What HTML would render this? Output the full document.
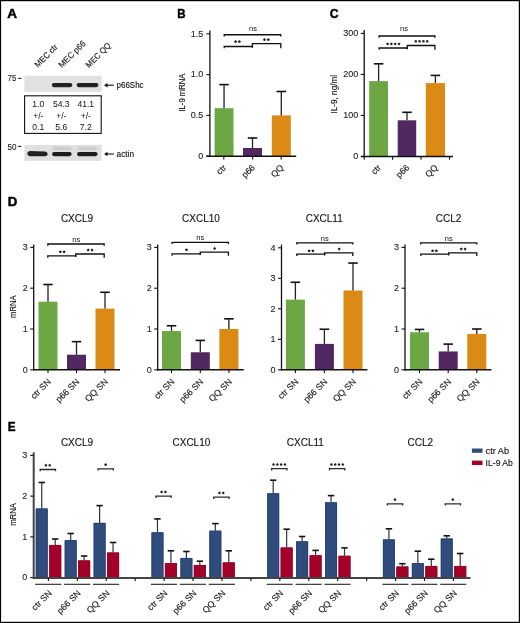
<!DOCTYPE html>
<html><head><meta charset="utf-8"><style>
html,body{margin:0;padding:0;background:#fff;}
svg{display:block;will-change:transform;}
text{font-family:"Liberation Sans",sans-serif;}
</style></head><body>
<svg width="520" height="623" viewBox="0 0 520 623">
<rect width="520" height="623" fill="#fff"/>
<rect x="0.00" y="0.00" width="1.10" height="623.00" fill="#000"/>
<rect x="0.00" y="0.00" width="520.00" height="1.20" fill="#000"/>
<rect x="518.80" y="0.00" width="1.20" height="623.00" fill="#000"/>
<rect x="0.00" y="621.80" width="520.00" height="1.20" fill="#000"/>
<text x="7.30" y="17.80" font-size="12.2" text-anchor="start" font-weight="bold" fill="#000" stroke="#000" stroke-width="0.45" textLength="9.8" lengthAdjust="spacingAndGlyphs">A</text>
<text x="177.30" y="17.80" font-size="12.2" text-anchor="start" font-weight="bold" fill="#000" stroke="#000" stroke-width="0.45" textLength="8.3" lengthAdjust="spacingAndGlyphs">B</text>
<text x="329.70" y="17.90" font-size="12.2" text-anchor="start" font-weight="bold" fill="#000" stroke="#000" stroke-width="0.45" textLength="8.8" lengthAdjust="spacingAndGlyphs">C</text>
<text x="7.70" y="205.90" font-size="12.2" text-anchor="start" font-weight="bold" fill="#000" stroke="#000" stroke-width="0.45" textLength="9.6" lengthAdjust="spacingAndGlyphs">D</text>
<text x="7.70" y="430.70" font-size="12.2" text-anchor="start" font-weight="bold" fill="#000" stroke="#000" stroke-width="0.45" textLength="7.8" lengthAdjust="spacingAndGlyphs">E</text>
<rect x="214.60" y="108.20" width="18.90" height="48.00" fill="#6ca743"/>
<line x1="224.05" y1="108.20" x2="224.05" y2="84.60" stroke="#222" stroke-width="1.3"/>
<line x1="219.30" y1="84.60" x2="228.80" y2="84.60" stroke="#111" stroke-width="1.6"/>
<rect x="243.00" y="148.00" width="19.00" height="8.20" fill="#522862"/>
<line x1="252.50" y1="148.00" x2="252.50" y2="138.00" stroke="#222" stroke-width="1.3"/>
<line x1="247.75" y1="138.00" x2="257.25" y2="138.00" stroke="#111" stroke-width="1.6"/>
<rect x="271.80" y="115.40" width="19.00" height="40.80" fill="#db8a16"/>
<line x1="281.30" y1="115.40" x2="281.30" y2="91.50" stroke="#222" stroke-width="1.3"/>
<line x1="276.55" y1="91.50" x2="286.05" y2="91.50" stroke="#111" stroke-width="1.6"/>
<line x1="209.90" y1="30.50" x2="209.90" y2="156.80" stroke="#111" stroke-width="1.3"/>
<line x1="206.40" y1="156.20" x2="209.90" y2="156.20" stroke="#111" stroke-width="1.1"/>
<text x="203.30" y="158.90" font-size="9" text-anchor="end" font-weight="normal" fill="#222" stroke="#222" stroke-width="0.1">0</text>
<line x1="206.40" y1="115.40" x2="209.90" y2="115.40" stroke="#111" stroke-width="1.1"/>
<text x="203.30" y="118.10" font-size="9" text-anchor="end" font-weight="normal" fill="#222" stroke="#222" stroke-width="0.1">0.5</text>
<line x1="206.40" y1="74.60" x2="209.90" y2="74.60" stroke="#111" stroke-width="1.1"/>
<text x="203.30" y="77.30" font-size="9" text-anchor="end" font-weight="normal" fill="#222" stroke="#222" stroke-width="0.1">1.0</text>
<line x1="206.40" y1="33.80" x2="209.90" y2="33.80" stroke="#111" stroke-width="1.1"/>
<text x="203.30" y="36.50" font-size="9" text-anchor="end" font-weight="normal" fill="#222" stroke="#222" stroke-width="0.1">1.5</text>
<line x1="206.30" y1="156.20" x2="296.20" y2="156.20" stroke="#111" stroke-width="1.5"/>
<line x1="223.80" y1="156.20" x2="223.80" y2="159.40" stroke="#111" stroke-width="1.1"/>
<line x1="252.60" y1="156.20" x2="252.60" y2="159.40" stroke="#111" stroke-width="1.1"/>
<line x1="281.20" y1="156.20" x2="281.20" y2="159.40" stroke="#111" stroke-width="1.1"/>
<path d="M224.20 36.45 V34.75 H280.80 V36.45" fill="none" stroke="#111" stroke-width="1.3"/>
<path d="M224.20 48.30 V46.50 H252.40 V47.70" fill="none" stroke="#111" stroke-width="1.3"/>
<path d="M252.40 47.30 V43.60 H280.80 V48.30" fill="none" stroke="#111" stroke-width="1.3"/>
<text x="253.00" y="31.40" font-size="7.5" text-anchor="middle" font-weight="normal" fill="#111">ns</text>
<polygon points="235.60,39.95 236.19,40.84 237.22,41.12 236.55,41.96 236.60,43.03 235.60,42.65 234.60,43.03 234.65,41.96 233.98,41.12 235.01,40.84" fill="#1a1a1a"/>
<polygon points="239.40,39.95 239.99,40.84 241.02,41.12 240.35,41.96 240.40,43.03 239.40,42.65 238.40,43.03 238.45,41.96 237.78,41.12 238.81,40.84" fill="#1a1a1a"/>
<polygon points="264.50,37.95 265.09,38.84 266.12,39.12 265.45,39.96 265.50,41.03 264.50,40.65 263.50,41.03 263.55,39.96 262.88,39.12 263.91,38.84" fill="#1a1a1a"/>
<polygon points="268.30,37.95 268.89,38.84 269.92,39.12 269.25,39.96 269.30,41.03 268.30,40.65 267.30,41.03 267.35,39.96 266.68,39.12 267.71,38.84" fill="#1a1a1a"/>
<text x="185.00" y="92.60" font-size="9.2" text-anchor="middle" font-weight="normal" fill="#111" stroke="#111" stroke-width="0.15" textLength="37.8" lengthAdjust="spacingAndGlyphs" transform="rotate(-90 185.00 92.60)">IL-9 mRNA</text>
<text x="226.80" y="168.20" font-size="8.8" text-anchor="end" font-weight="normal" fill="#111" stroke="#111" stroke-width="0.12" transform="rotate(-45 226.80 168.20)">ctr</text>
<text x="255.60" y="168.20" font-size="8.8" text-anchor="end" font-weight="normal" fill="#111" stroke="#111" stroke-width="0.12" transform="rotate(-45 255.60 168.20)">p66</text>
<text x="284.20" y="168.20" font-size="8.8" text-anchor="end" font-weight="normal" fill="#111" stroke="#111" stroke-width="0.12" transform="rotate(-45 284.20 168.20)">QQ</text>
<rect x="369.20" y="81.10" width="18.80" height="75.40" fill="#6ca743"/>
<line x1="378.60" y1="81.10" x2="378.60" y2="63.80" stroke="#222" stroke-width="1.3"/>
<line x1="373.85" y1="63.80" x2="383.35" y2="63.80" stroke="#111" stroke-width="1.6"/>
<rect x="397.70" y="120.30" width="18.50" height="36.20" fill="#522862"/>
<line x1="407.00" y1="120.30" x2="407.00" y2="112.30" stroke="#222" stroke-width="1.3"/>
<line x1="402.25" y1="112.30" x2="411.75" y2="112.30" stroke="#111" stroke-width="1.6"/>
<rect x="425.80" y="83.10" width="19.20" height="73.40" fill="#db8a16"/>
<line x1="435.40" y1="83.10" x2="435.40" y2="75.40" stroke="#222" stroke-width="1.3"/>
<line x1="430.65" y1="75.40" x2="440.15" y2="75.40" stroke="#111" stroke-width="1.6"/>
<line x1="364.20" y1="30.00" x2="364.20" y2="157.10" stroke="#111" stroke-width="1.3"/>
<line x1="360.70" y1="156.50" x2="364.20" y2="156.50" stroke="#111" stroke-width="1.1"/>
<text x="358.30" y="159.20" font-size="9" text-anchor="end" font-weight="normal" fill="#222" stroke="#222" stroke-width="0.1">0</text>
<line x1="360.70" y1="115.47" x2="364.20" y2="115.47" stroke="#111" stroke-width="1.1"/>
<text x="358.30" y="118.17" font-size="9" text-anchor="end" font-weight="normal" fill="#222" stroke="#222" stroke-width="0.1">100</text>
<line x1="360.70" y1="74.43" x2="364.20" y2="74.43" stroke="#111" stroke-width="1.1"/>
<text x="358.30" y="77.13" font-size="9" text-anchor="end" font-weight="normal" fill="#222" stroke="#222" stroke-width="0.1">200</text>
<line x1="360.70" y1="33.40" x2="364.20" y2="33.40" stroke="#111" stroke-width="1.1"/>
<text x="358.30" y="36.10" font-size="9" text-anchor="end" font-weight="normal" fill="#222" stroke="#222" stroke-width="0.1">300</text>
<line x1="361.00" y1="156.50" x2="453.00" y2="156.50" stroke="#111" stroke-width="1.5"/>
<line x1="364.20" y1="156.50" x2="364.20" y2="159.70" stroke="#111" stroke-width="1.1"/>
<line x1="392.60" y1="156.50" x2="392.60" y2="159.70" stroke="#111" stroke-width="1.1"/>
<line x1="421.00" y1="156.50" x2="421.00" y2="159.70" stroke="#111" stroke-width="1.1"/>
<line x1="449.50" y1="156.50" x2="449.50" y2="159.70" stroke="#111" stroke-width="1.1"/>
<path d="M379.10 37.70 V36.00 H434.90 V37.70" fill="none" stroke="#111" stroke-width="1.3"/>
<path d="M379.10 49.80 V48.00 H407.30 V49.20" fill="none" stroke="#111" stroke-width="1.3"/>
<path d="M407.30 48.80 V45.50 H434.90 V49.80" fill="none" stroke="#111" stroke-width="1.3"/>
<text x="404.00" y="31.40" font-size="7.5" text-anchor="middle" font-weight="normal" fill="#111">ns</text>
<polygon points="387.60,42.25 388.19,43.14 389.22,43.42 388.55,44.26 388.60,45.33 387.60,44.95 386.60,45.33 386.65,44.26 385.98,43.42 387.01,43.14" fill="#1a1a1a"/>
<polygon points="391.40,42.25 391.99,43.14 393.02,43.42 392.35,44.26 392.40,45.33 391.40,44.95 390.40,45.33 390.45,44.26 389.78,43.42 390.81,43.14" fill="#1a1a1a"/>
<polygon points="395.20,42.25 395.79,43.14 396.82,43.42 396.15,44.26 396.20,45.33 395.20,44.95 394.20,45.33 394.25,44.26 393.58,43.42 394.61,43.14" fill="#1a1a1a"/>
<polygon points="399.00,42.25 399.59,43.14 400.62,43.42 399.95,44.26 400.00,45.33 399.00,44.95 398.00,45.33 398.05,44.26 397.38,43.42 398.41,43.14" fill="#1a1a1a"/>
<polygon points="415.80,39.65 416.39,40.54 417.42,40.82 416.75,41.66 416.80,42.73 415.80,42.35 414.80,42.73 414.85,41.66 414.18,40.82 415.21,40.54" fill="#1a1a1a"/>
<polygon points="419.60,39.65 420.19,40.54 421.22,40.82 420.55,41.66 420.60,42.73 419.60,42.35 418.60,42.73 418.65,41.66 417.98,40.82 419.01,40.54" fill="#1a1a1a"/>
<polygon points="423.40,39.65 423.99,40.54 425.02,40.82 424.35,41.66 424.40,42.73 423.40,42.35 422.40,42.73 422.45,41.66 421.78,40.82 422.81,40.54" fill="#1a1a1a"/>
<polygon points="427.20,39.65 427.79,40.54 428.82,40.82 428.15,41.66 428.20,42.73 427.20,42.35 426.20,42.73 426.25,41.66 425.58,40.82 426.61,40.54" fill="#1a1a1a"/>
<text x="337.00" y="94.20" font-size="8.8" text-anchor="middle" font-weight="normal" fill="#111" stroke="#111" stroke-width="0.15" textLength="38.8" lengthAdjust="spacingAndGlyphs" transform="rotate(-90 337.00 94.20)">IL-9, ng/ml</text>
<text x="381.60" y="168.20" font-size="8.8" text-anchor="end" font-weight="normal" fill="#111" stroke="#111" stroke-width="0.12" transform="rotate(-45 381.60 168.20)">ctr</text>
<text x="410.00" y="168.20" font-size="8.8" text-anchor="end" font-weight="normal" fill="#111" stroke="#111" stroke-width="0.12" transform="rotate(-45 410.00 168.20)">p66</text>
<text x="438.40" y="168.20" font-size="8.8" text-anchor="end" font-weight="normal" fill="#111" stroke="#111" stroke-width="0.12" transform="rotate(-45 438.40 168.20)">QQ</text>
<rect x="38.50" y="301.66" width="19.00" height="68.14" fill="#6ca743"/>
<line x1="48.00" y1="301.66" x2="48.00" y2="284.53" stroke="#222" stroke-width="1.3"/>
<line x1="43.25" y1="284.53" x2="52.75" y2="284.53" stroke="#111" stroke-width="1.6"/>
<rect x="67.00" y="354.70" width="19.00" height="15.10" fill="#522862"/>
<line x1="76.50" y1="354.70" x2="76.50" y2="341.65" stroke="#222" stroke-width="1.3"/>
<line x1="71.75" y1="341.65" x2="81.25" y2="341.65" stroke="#111" stroke-width="1.6"/>
<rect x="95.50" y="308.60" width="19.00" height="61.20" fill="#db8a16"/>
<line x1="105.00" y1="308.60" x2="105.00" y2="292.28" stroke="#222" stroke-width="1.3"/>
<line x1="100.25" y1="292.28" x2="109.75" y2="292.28" stroke="#111" stroke-width="1.6"/>
<line x1="33.70" y1="244.60" x2="33.70" y2="370.40" stroke="#111" stroke-width="1.3"/>
<line x1="30.20" y1="369.80" x2="33.70" y2="369.80" stroke="#111" stroke-width="1.1"/>
<text x="27.70" y="372.50" font-size="9" text-anchor="end" font-weight="normal" fill="#222" stroke="#222" stroke-width="0.1">0</text>
<line x1="30.20" y1="329.00" x2="33.70" y2="329.00" stroke="#111" stroke-width="1.1"/>
<text x="27.70" y="331.70" font-size="9" text-anchor="end" font-weight="normal" fill="#222" stroke="#222" stroke-width="0.1">1</text>
<line x1="30.20" y1="288.20" x2="33.70" y2="288.20" stroke="#111" stroke-width="1.1"/>
<text x="27.70" y="290.90" font-size="9" text-anchor="end" font-weight="normal" fill="#222" stroke="#222" stroke-width="0.1">2</text>
<line x1="30.20" y1="247.40" x2="33.70" y2="247.40" stroke="#111" stroke-width="1.1"/>
<text x="27.70" y="250.10" font-size="9" text-anchor="end" font-weight="normal" fill="#222" stroke="#222" stroke-width="0.1">3</text>
<line x1="33.10" y1="369.80" x2="120.00" y2="369.80" stroke="#111" stroke-width="1.5"/>
<line x1="48.00" y1="369.80" x2="48.00" y2="373.00" stroke="#111" stroke-width="1.1"/>
<line x1="76.50" y1="369.80" x2="76.50" y2="373.00" stroke="#111" stroke-width="1.1"/>
<line x1="105.00" y1="369.80" x2="105.00" y2="373.00" stroke="#111" stroke-width="1.1"/>
<path d="M47.80 245.70 V244.00 H104.20 V245.70" fill="none" stroke="#111" stroke-width="1.3"/>
<path d="M47.80 257.70 V255.90 H75.70 V257.10" fill="none" stroke="#111" stroke-width="1.3"/>
<path d="M75.70 256.70 V254.00 H104.20 V257.70" fill="none" stroke="#111" stroke-width="1.3"/>
<text x="76.30" y="241.80" font-size="7.5" text-anchor="middle" font-weight="normal" fill="#111">ns</text>
<polygon points="60.30,250.15 60.89,251.04 61.92,251.32 61.25,252.16 61.30,253.23 60.30,252.85 59.30,253.23 59.35,252.16 58.68,251.32 59.71,251.04" fill="#1a1a1a"/>
<polygon points="64.10,250.15 64.69,251.04 65.72,251.32 65.05,252.16 65.10,253.23 64.10,252.85 63.10,253.23 63.15,252.16 62.48,251.32 63.51,251.04" fill="#1a1a1a"/>
<polygon points="88.20,248.35 88.79,249.24 89.82,249.52 89.15,250.36 89.20,251.43 88.20,251.05 87.20,251.43 87.25,250.36 86.58,249.52 87.61,249.24" fill="#1a1a1a"/>
<polygon points="92.00,248.35 92.59,249.24 93.62,249.52 92.95,250.36 93.00,251.43 92.00,251.05 91.00,251.43 91.05,250.36 90.38,249.52 91.41,249.24" fill="#1a1a1a"/>
<text x="77.00" y="221.80" font-size="10" text-anchor="middle" font-weight="normal" fill="#111" stroke="#111" stroke-width="0.12">CXCL9</text>
<text x="51.50" y="382.30" font-size="8.8" text-anchor="end" font-weight="normal" fill="#111" stroke="#111" stroke-width="0.12" transform="rotate(-45 51.50 382.30)">ctr SN</text>
<text x="80.00" y="382.30" font-size="8.8" text-anchor="end" font-weight="normal" fill="#111" stroke="#111" stroke-width="0.12" transform="rotate(-45 80.00 382.30)">p66 SN</text>
<text x="108.50" y="382.30" font-size="8.8" text-anchor="end" font-weight="normal" fill="#111" stroke="#111" stroke-width="0.12" transform="rotate(-45 108.50 382.30)">QQ SN</text>
<text x="16.40" y="306.70" font-size="9.0" text-anchor="middle" font-weight="normal" fill="#111" stroke="#111" stroke-width="0.15" textLength="22.6" lengthAdjust="spacingAndGlyphs" transform="rotate(-90 16.40 306.70)">mRNA</text>
<rect x="162.00" y="331.04" width="19.00" height="38.76" fill="#6ca743"/>
<line x1="171.50" y1="331.04" x2="171.50" y2="325.74" stroke="#222" stroke-width="1.3"/>
<line x1="166.75" y1="325.74" x2="176.25" y2="325.74" stroke="#111" stroke-width="1.6"/>
<rect x="190.80" y="352.26" width="19.00" height="17.54" fill="#522862"/>
<line x1="200.30" y1="352.26" x2="200.30" y2="340.42" stroke="#222" stroke-width="1.3"/>
<line x1="195.55" y1="340.42" x2="205.05" y2="340.42" stroke="#111" stroke-width="1.6"/>
<rect x="219.40" y="329.00" width="19.00" height="40.80" fill="#db8a16"/>
<line x1="228.90" y1="329.00" x2="228.90" y2="318.80" stroke="#222" stroke-width="1.3"/>
<line x1="224.15" y1="318.80" x2="233.65" y2="318.80" stroke="#111" stroke-width="1.6"/>
<line x1="157.70" y1="244.60" x2="157.70" y2="370.40" stroke="#111" stroke-width="1.3"/>
<line x1="154.20" y1="369.80" x2="157.70" y2="369.80" stroke="#111" stroke-width="1.1"/>
<text x="151.70" y="372.50" font-size="9" text-anchor="end" font-weight="normal" fill="#222" stroke="#222" stroke-width="0.1">0</text>
<line x1="154.20" y1="329.00" x2="157.70" y2="329.00" stroke="#111" stroke-width="1.1"/>
<text x="151.70" y="331.70" font-size="9" text-anchor="end" font-weight="normal" fill="#222" stroke="#222" stroke-width="0.1">1</text>
<line x1="154.20" y1="288.20" x2="157.70" y2="288.20" stroke="#111" stroke-width="1.1"/>
<text x="151.70" y="290.90" font-size="9" text-anchor="end" font-weight="normal" fill="#222" stroke="#222" stroke-width="0.1">2</text>
<line x1="154.20" y1="247.40" x2="157.70" y2="247.40" stroke="#111" stroke-width="1.1"/>
<text x="151.70" y="250.10" font-size="9" text-anchor="end" font-weight="normal" fill="#222" stroke="#222" stroke-width="0.1">3</text>
<line x1="157.10" y1="369.80" x2="243.70" y2="369.80" stroke="#111" stroke-width="1.5"/>
<line x1="171.50" y1="369.80" x2="171.50" y2="373.00" stroke="#111" stroke-width="1.1"/>
<line x1="200.30" y1="369.80" x2="200.30" y2="373.00" stroke="#111" stroke-width="1.1"/>
<line x1="228.90" y1="369.80" x2="228.90" y2="373.00" stroke="#111" stroke-width="1.1"/>
<path d="M172.10 244.10 V242.40 H228.40 V244.10" fill="none" stroke="#111" stroke-width="1.3"/>
<path d="M172.10 255.70 V253.90 H200.30 V255.10" fill="none" stroke="#111" stroke-width="1.3"/>
<path d="M200.30 254.70 V252.10 H228.40 V255.70" fill="none" stroke="#111" stroke-width="1.3"/>
<text x="200.30" y="240.20" font-size="7.5" text-anchor="middle" font-weight="normal" fill="#111">ns</text>
<polygon points="186.50,248.15 187.09,249.04 188.12,249.32 187.45,250.16 187.50,251.23 186.50,250.85 185.50,251.23 185.55,250.16 184.88,249.32 185.91,249.04" fill="#1a1a1a"/>
<polygon points="214.60,246.75 215.19,247.64 216.22,247.92 215.55,248.76 215.60,249.83 214.60,249.45 213.60,249.83 213.65,248.76 212.98,247.92 214.01,247.64" fill="#1a1a1a"/>
<text x="201.00" y="221.80" font-size="10" text-anchor="middle" font-weight="normal" fill="#111" stroke="#111" stroke-width="0.12">CXCL10</text>
<text x="175.00" y="382.30" font-size="8.8" text-anchor="end" font-weight="normal" fill="#111" stroke="#111" stroke-width="0.12" transform="rotate(-45 175.00 382.30)">ctr SN</text>
<text x="203.80" y="382.30" font-size="8.8" text-anchor="end" font-weight="normal" fill="#111" stroke="#111" stroke-width="0.12" transform="rotate(-45 203.80 382.30)">p66 SN</text>
<text x="232.40" y="382.30" font-size="8.8" text-anchor="end" font-weight="normal" fill="#111" stroke="#111" stroke-width="0.12" transform="rotate(-45 232.40 382.30)">QQ SN</text>
<rect x="285.90" y="299.65" width="19.00" height="70.15" fill="#6ca743"/>
<line x1="295.40" y1="299.65" x2="295.40" y2="282.26" stroke="#222" stroke-width="1.3"/>
<line x1="290.65" y1="282.26" x2="300.15" y2="282.26" stroke="#111" stroke-width="1.6"/>
<rect x="314.90" y="343.88" width="19.00" height="25.93" fill="#522862"/>
<line x1="324.40" y1="343.88" x2="324.40" y2="329.24" stroke="#222" stroke-width="1.3"/>
<line x1="319.65" y1="329.24" x2="329.15" y2="329.24" stroke="#111" stroke-width="1.6"/>
<rect x="343.50" y="290.50" width="19.00" height="79.30" fill="#db8a16"/>
<line x1="353.00" y1="290.50" x2="353.00" y2="263.05" stroke="#222" stroke-width="1.3"/>
<line x1="348.25" y1="263.05" x2="357.75" y2="263.05" stroke="#111" stroke-width="1.6"/>
<line x1="281.50" y1="244.60" x2="281.50" y2="370.40" stroke="#111" stroke-width="1.3"/>
<line x1="278.00" y1="369.80" x2="281.50" y2="369.80" stroke="#111" stroke-width="1.1"/>
<text x="275.50" y="372.50" font-size="9" text-anchor="end" font-weight="normal" fill="#222" stroke="#222" stroke-width="0.1">0</text>
<line x1="278.00" y1="339.30" x2="281.50" y2="339.30" stroke="#111" stroke-width="1.1"/>
<text x="275.50" y="342.00" font-size="9" text-anchor="end" font-weight="normal" fill="#222" stroke="#222" stroke-width="0.1">1</text>
<line x1="278.00" y1="308.80" x2="281.50" y2="308.80" stroke="#111" stroke-width="1.1"/>
<text x="275.50" y="311.50" font-size="9" text-anchor="end" font-weight="normal" fill="#222" stroke="#222" stroke-width="0.1">2</text>
<line x1="278.00" y1="278.30" x2="281.50" y2="278.30" stroke="#111" stroke-width="1.1"/>
<text x="275.50" y="281.00" font-size="9" text-anchor="end" font-weight="normal" fill="#222" stroke="#222" stroke-width="0.1">3</text>
<line x1="278.00" y1="247.80" x2="281.50" y2="247.80" stroke="#111" stroke-width="1.1"/>
<text x="275.50" y="250.50" font-size="9" text-anchor="end" font-weight="normal" fill="#222" stroke="#222" stroke-width="0.1">4</text>
<line x1="280.90" y1="369.80" x2="367.40" y2="369.80" stroke="#111" stroke-width="1.5"/>
<line x1="295.40" y1="369.80" x2="295.40" y2="373.00" stroke="#111" stroke-width="1.1"/>
<line x1="324.40" y1="369.80" x2="324.40" y2="373.00" stroke="#111" stroke-width="1.1"/>
<line x1="353.00" y1="369.80" x2="353.00" y2="373.00" stroke="#111" stroke-width="1.1"/>
<path d="M296.80 244.50 V242.80 H352.80 V244.50" fill="none" stroke="#111" stroke-width="1.3"/>
<path d="M296.80 256.00 V254.20 H324.60 V255.40" fill="none" stroke="#111" stroke-width="1.3"/>
<path d="M324.60 255.00 V252.80 H352.80 V256.00" fill="none" stroke="#111" stroke-width="1.3"/>
<text x="324.80" y="240.60" font-size="7.5" text-anchor="middle" font-weight="normal" fill="#111">ns</text>
<polygon points="309.10,249.15 309.69,250.04 310.72,250.32 310.05,251.16 310.10,252.23 309.10,251.85 308.10,252.23 308.15,251.16 307.48,250.32 308.51,250.04" fill="#1a1a1a"/>
<polygon points="312.90,249.15 313.49,250.04 314.52,250.32 313.85,251.16 313.90,252.23 312.90,251.85 311.90,252.23 311.95,251.16 311.28,250.32 312.31,250.04" fill="#1a1a1a"/>
<polygon points="339.20,247.35 339.79,248.24 340.82,248.52 340.15,249.36 340.20,250.43 339.20,250.05 338.20,250.43 338.25,249.36 337.58,248.52 338.61,248.24" fill="#1a1a1a"/>
<text x="324.20" y="221.80" font-size="10" text-anchor="middle" font-weight="normal" fill="#111" stroke="#111" stroke-width="0.12">CXCL11</text>
<text x="298.90" y="382.30" font-size="8.8" text-anchor="end" font-weight="normal" fill="#111" stroke="#111" stroke-width="0.12" transform="rotate(-45 298.90 382.30)">ctr SN</text>
<text x="327.90" y="382.30" font-size="8.8" text-anchor="end" font-weight="normal" fill="#111" stroke="#111" stroke-width="0.12" transform="rotate(-45 327.90 382.30)">p66 SN</text>
<text x="356.50" y="382.30" font-size="8.8" text-anchor="end" font-weight="normal" fill="#111" stroke="#111" stroke-width="0.12" transform="rotate(-45 356.50 382.30)">QQ SN</text>
<rect x="410.00" y="332.26" width="19.00" height="37.54" fill="#6ca743"/>
<line x1="419.50" y1="332.26" x2="419.50" y2="329.41" stroke="#222" stroke-width="1.3"/>
<line x1="414.75" y1="329.41" x2="424.25" y2="329.41" stroke="#111" stroke-width="1.6"/>
<rect x="438.70" y="351.44" width="19.00" height="18.36" fill="#522862"/>
<line x1="448.20" y1="351.44" x2="448.20" y2="344.10" stroke="#222" stroke-width="1.3"/>
<line x1="443.45" y1="344.10" x2="452.95" y2="344.10" stroke="#111" stroke-width="1.6"/>
<rect x="467.30" y="333.90" width="19.00" height="35.90" fill="#db8a16"/>
<line x1="476.80" y1="333.90" x2="476.80" y2="329.00" stroke="#222" stroke-width="1.3"/>
<line x1="472.05" y1="329.00" x2="481.55" y2="329.00" stroke="#111" stroke-width="1.6"/>
<line x1="405.00" y1="244.60" x2="405.00" y2="370.40" stroke="#111" stroke-width="1.3"/>
<line x1="401.50" y1="369.80" x2="405.00" y2="369.80" stroke="#111" stroke-width="1.1"/>
<text x="399.00" y="372.50" font-size="9" text-anchor="end" font-weight="normal" fill="#222" stroke="#222" stroke-width="0.1">0</text>
<line x1="401.50" y1="329.00" x2="405.00" y2="329.00" stroke="#111" stroke-width="1.1"/>
<text x="399.00" y="331.70" font-size="9" text-anchor="end" font-weight="normal" fill="#222" stroke="#222" stroke-width="0.1">1</text>
<line x1="401.50" y1="288.20" x2="405.00" y2="288.20" stroke="#111" stroke-width="1.1"/>
<text x="399.00" y="290.90" font-size="9" text-anchor="end" font-weight="normal" fill="#222" stroke="#222" stroke-width="0.1">2</text>
<line x1="401.50" y1="247.40" x2="405.00" y2="247.40" stroke="#111" stroke-width="1.1"/>
<text x="399.00" y="250.10" font-size="9" text-anchor="end" font-weight="normal" fill="#222" stroke="#222" stroke-width="0.1">3</text>
<line x1="404.40" y1="369.80" x2="491.40" y2="369.80" stroke="#111" stroke-width="1.5"/>
<line x1="419.50" y1="369.80" x2="419.50" y2="373.00" stroke="#111" stroke-width="1.1"/>
<line x1="448.20" y1="369.80" x2="448.20" y2="373.00" stroke="#111" stroke-width="1.1"/>
<line x1="476.80" y1="369.80" x2="476.80" y2="373.00" stroke="#111" stroke-width="1.1"/>
<path d="M420.80 244.50 V242.80 H476.80 V244.50" fill="none" stroke="#111" stroke-width="1.3"/>
<path d="M420.80 256.00 V254.20 H448.60 V255.40" fill="none" stroke="#111" stroke-width="1.3"/>
<path d="M448.60 255.00 V252.80 H476.80 V256.00" fill="none" stroke="#111" stroke-width="1.3"/>
<text x="448.80" y="240.60" font-size="7.5" text-anchor="middle" font-weight="normal" fill="#111">ns</text>
<polygon points="432.60,249.15 433.19,250.04 434.22,250.32 433.55,251.16 433.60,252.23 432.60,251.85 431.60,252.23 431.65,251.16 430.98,250.32 432.01,250.04" fill="#1a1a1a"/>
<polygon points="436.40,249.15 436.99,250.04 438.02,250.32 437.35,251.16 437.40,252.23 436.40,251.85 435.40,252.23 435.45,251.16 434.78,250.32 435.81,250.04" fill="#1a1a1a"/>
<polygon points="461.30,247.35 461.89,248.24 462.92,248.52 462.25,249.36 462.30,250.43 461.30,250.05 460.30,250.43 460.35,249.36 459.68,248.52 460.71,248.24" fill="#1a1a1a"/>
<polygon points="465.10,247.35 465.69,248.24 466.72,248.52 466.05,249.36 466.10,250.43 465.10,250.05 464.10,250.43 464.15,249.36 463.48,248.52 464.51,248.24" fill="#1a1a1a"/>
<text x="448.60" y="221.80" font-size="10" text-anchor="middle" font-weight="normal" fill="#111" stroke="#111" stroke-width="0.12">CCL2</text>
<text x="423.00" y="382.30" font-size="8.8" text-anchor="end" font-weight="normal" fill="#111" stroke="#111" stroke-width="0.12" transform="rotate(-45 423.00 382.30)">ctr SN</text>
<text x="451.70" y="382.30" font-size="8.8" text-anchor="end" font-weight="normal" fill="#111" stroke="#111" stroke-width="0.12" transform="rotate(-45 451.70 382.30)">p66 SN</text>
<text x="480.30" y="382.30" font-size="8.8" text-anchor="end" font-weight="normal" fill="#111" stroke="#111" stroke-width="0.12" transform="rotate(-45 480.30 382.30)">QQ SN</text>
<text x="16.40" y="514.50" font-size="8.8" text-anchor="middle" font-weight="normal" fill="#111" stroke="#111" stroke-width="0.15" textLength="22.6" lengthAdjust="spacingAndGlyphs" transform="rotate(-90 16.40 514.50)">mRNA</text>
<rect x="35.80" y="508.50" width="11.90" height="69.50" fill="#2f4c7d"/>
<path d="M36.20 578.00 V508.90 H47.30 V578.00" fill="none" stroke="#223d72" stroke-width="0.8"/>
<line x1="41.75" y1="508.50" x2="41.75" y2="482.50" stroke="#333" stroke-width="1.2"/>
<line x1="38.55" y1="482.50" x2="44.95" y2="482.50" stroke="#111" stroke-width="1.6"/>
<rect x="49.20" y="545.00" width="12.00" height="33.00" fill="#a3002a"/>
<path d="M49.60 578.00 V545.40 H60.80 V578.00" fill="none" stroke="#98002a" stroke-width="0.8"/>
<line x1="55.20" y1="545.00" x2="55.20" y2="539.00" stroke="#333" stroke-width="1.2"/>
<line x1="52.00" y1="539.00" x2="58.40" y2="539.00" stroke="#111" stroke-width="1.6"/>
<line x1="35.20" y1="584.30" x2="61.30" y2="584.30" stroke="#222" stroke-width="1.1"/>
<text x="52.40" y="593.70" font-size="8.8" text-anchor="end" font-weight="normal" fill="#111" stroke="#111" stroke-width="0.12" transform="rotate(-45 52.40 593.70)">ctr SN</text>
<rect x="64.73" y="540.20" width="11.90" height="37.80" fill="#2f4c7d"/>
<path d="M65.13 578.00 V540.60 H76.23 V578.00" fill="none" stroke="#223d72" stroke-width="0.8"/>
<line x1="70.68" y1="540.20" x2="70.68" y2="533.50" stroke="#333" stroke-width="1.2"/>
<line x1="67.48" y1="533.50" x2="73.88" y2="533.50" stroke="#111" stroke-width="1.6"/>
<rect x="78.13" y="560.40" width="12.00" height="17.60" fill="#a3002a"/>
<path d="M78.53 578.00 V560.80 H89.73 V578.00" fill="none" stroke="#98002a" stroke-width="0.8"/>
<line x1="84.13" y1="560.40" x2="84.13" y2="556.00" stroke="#333" stroke-width="1.2"/>
<line x1="80.93" y1="556.00" x2="87.33" y2="556.00" stroke="#111" stroke-width="1.6"/>
<line x1="64.13" y1="584.30" x2="90.23" y2="584.30" stroke="#222" stroke-width="1.1"/>
<text x="81.33" y="593.70" font-size="8.8" text-anchor="end" font-weight="normal" fill="#111" stroke="#111" stroke-width="0.12" transform="rotate(-45 81.33 593.70)">p66 SN</text>
<rect x="93.66" y="522.90" width="11.90" height="55.10" fill="#2f4c7d"/>
<path d="M94.06 578.00 V523.30 H105.16 V578.00" fill="none" stroke="#223d72" stroke-width="0.8"/>
<line x1="99.61" y1="522.90" x2="99.61" y2="505.60" stroke="#333" stroke-width="1.2"/>
<line x1="96.41" y1="505.60" x2="102.81" y2="505.60" stroke="#111" stroke-width="1.6"/>
<rect x="107.06" y="552.50" width="12.00" height="25.50" fill="#a3002a"/>
<path d="M107.46 578.00 V552.90 H118.66 V578.00" fill="none" stroke="#98002a" stroke-width="0.8"/>
<line x1="113.06" y1="552.50" x2="113.06" y2="542.50" stroke="#333" stroke-width="1.2"/>
<line x1="109.86" y1="542.50" x2="116.26" y2="542.50" stroke="#111" stroke-width="1.6"/>
<line x1="93.06" y1="584.30" x2="119.16" y2="584.30" stroke="#222" stroke-width="1.1"/>
<text x="110.26" y="593.70" font-size="8.8" text-anchor="end" font-weight="normal" fill="#111" stroke="#111" stroke-width="0.12" transform="rotate(-45 110.26 593.70)">QQ SN</text>
<path d="M40.20 471.20 V469.50 H55.50 V471.20" fill="none" stroke="#2a2a2a" stroke-width="1.3"/>
<polygon points="45.90,463.55 46.49,464.44 47.52,464.72 46.85,465.56 46.90,466.63 45.90,466.25 44.90,466.63 44.95,465.56 44.28,464.72 45.31,464.44" fill="#1a1a1a"/>
<polygon points="49.70,463.55 50.29,464.44 51.32,464.72 50.65,465.56 50.70,466.63 49.70,466.25 48.70,466.63 48.75,465.56 48.08,464.72 49.11,464.44" fill="#1a1a1a"/>
<path d="M98.06 470.60 V468.90 H113.36 V470.60" fill="none" stroke="#2a2a2a" stroke-width="1.3"/>
<polygon points="105.66,462.95 106.25,463.84 107.28,464.12 106.61,464.96 106.66,466.03 105.66,465.65 104.66,466.03 104.71,464.96 104.04,464.12 105.07,463.84" fill="#1a1a1a"/>
<text x="77.00" y="446.30" font-size="10" text-anchor="middle" font-weight="normal" fill="#111" stroke="#111" stroke-width="0.12">CXCL9</text>
<rect x="151.52" y="532.30" width="11.90" height="45.70" fill="#2f4c7d"/>
<path d="M151.92 578.00 V532.70 H163.02 V578.00" fill="none" stroke="#223d72" stroke-width="0.8"/>
<line x1="157.47" y1="532.30" x2="157.47" y2="518.90" stroke="#333" stroke-width="1.2"/>
<line x1="154.27" y1="518.90" x2="160.67" y2="518.90" stroke="#111" stroke-width="1.6"/>
<rect x="164.92" y="563.10" width="12.00" height="14.90" fill="#a3002a"/>
<path d="M165.32 578.00 V563.50 H176.52 V578.00" fill="none" stroke="#98002a" stroke-width="0.8"/>
<line x1="170.92" y1="563.10" x2="170.92" y2="550.80" stroke="#333" stroke-width="1.2"/>
<line x1="167.72" y1="550.80" x2="174.12" y2="550.80" stroke="#111" stroke-width="1.6"/>
<line x1="150.92" y1="584.30" x2="177.02" y2="584.30" stroke="#222" stroke-width="1.1"/>
<text x="168.12" y="593.70" font-size="8.8" text-anchor="end" font-weight="normal" fill="#111" stroke="#111" stroke-width="0.12" transform="rotate(-45 168.12 593.70)">ctr SN</text>
<rect x="180.45" y="558.00" width="11.90" height="20.00" fill="#2f4c7d"/>
<path d="M180.85 578.00 V558.40 H191.95 V578.00" fill="none" stroke="#223d72" stroke-width="0.8"/>
<line x1="186.40" y1="558.00" x2="186.40" y2="551.50" stroke="#333" stroke-width="1.2"/>
<line x1="183.20" y1="551.50" x2="189.60" y2="551.50" stroke="#111" stroke-width="1.6"/>
<rect x="193.85" y="565.00" width="12.00" height="13.00" fill="#a3002a"/>
<path d="M194.25 578.00 V565.40 H205.45 V578.00" fill="none" stroke="#98002a" stroke-width="0.8"/>
<line x1="199.85" y1="565.00" x2="199.85" y2="561.20" stroke="#333" stroke-width="1.2"/>
<line x1="196.65" y1="561.20" x2="203.05" y2="561.20" stroke="#111" stroke-width="1.6"/>
<line x1="179.85" y1="584.30" x2="205.95" y2="584.30" stroke="#222" stroke-width="1.1"/>
<text x="197.05" y="593.70" font-size="8.8" text-anchor="end" font-weight="normal" fill="#111" stroke="#111" stroke-width="0.12" transform="rotate(-45 197.05 593.70)">p66 SN</text>
<rect x="209.38" y="530.70" width="11.90" height="47.30" fill="#2f4c7d"/>
<path d="M209.78 578.00 V531.10 H220.88 V578.00" fill="none" stroke="#223d72" stroke-width="0.8"/>
<line x1="215.33" y1="530.70" x2="215.33" y2="523.60" stroke="#333" stroke-width="1.2"/>
<line x1="212.13" y1="523.60" x2="218.53" y2="523.60" stroke="#111" stroke-width="1.6"/>
<rect x="222.78" y="562.40" width="12.00" height="15.60" fill="#a3002a"/>
<path d="M223.18 578.00 V562.80 H234.38 V578.00" fill="none" stroke="#98002a" stroke-width="0.8"/>
<line x1="228.78" y1="562.40" x2="228.78" y2="550.80" stroke="#333" stroke-width="1.2"/>
<line x1="225.58" y1="550.80" x2="231.98" y2="550.80" stroke="#111" stroke-width="1.6"/>
<line x1="208.78" y1="584.30" x2="234.88" y2="584.30" stroke="#222" stroke-width="1.1"/>
<text x="225.98" y="593.70" font-size="8.8" text-anchor="end" font-weight="normal" fill="#111" stroke="#111" stroke-width="0.12" transform="rotate(-45 225.98 593.70)">QQ SN</text>
<path d="M155.92 497.90 V496.20 H171.22 V497.90" fill="none" stroke="#2a2a2a" stroke-width="1.3"/>
<polygon points="161.62,490.25 162.21,491.14 163.24,491.42 162.57,492.26 162.62,493.33 161.62,492.95 160.62,493.33 160.67,492.26 160.00,491.42 161.03,491.14" fill="#1a1a1a"/>
<polygon points="165.42,490.25 166.01,491.14 167.04,491.42 166.37,492.26 166.42,493.33 165.42,492.95 164.42,493.33 164.47,492.26 163.80,491.42 164.83,491.14" fill="#1a1a1a"/>
<path d="M213.78 498.90 V497.20 H229.08 V498.90" fill="none" stroke="#2a2a2a" stroke-width="1.3"/>
<polygon points="219.48,491.25 220.07,492.14 221.10,492.42 220.43,493.26 220.48,494.33 219.48,493.95 218.48,494.33 218.53,493.26 217.86,492.42 218.89,492.14" fill="#1a1a1a"/>
<polygon points="223.28,491.25 223.87,492.14 224.90,492.42 224.23,493.26 224.28,494.33 223.28,493.95 222.28,494.33 222.33,493.26 221.66,492.42 222.69,492.14" fill="#1a1a1a"/>
<text x="191.40" y="446.30" font-size="10" text-anchor="middle" font-weight="normal" fill="#111" stroke="#111" stroke-width="0.12">CXCL10</text>
<rect x="267.24" y="493.30" width="11.90" height="84.70" fill="#2f4c7d"/>
<path d="M267.64 578.00 V493.70 H278.74 V578.00" fill="none" stroke="#223d72" stroke-width="0.8"/>
<line x1="273.19" y1="493.30" x2="273.19" y2="480.20" stroke="#333" stroke-width="1.2"/>
<line x1="269.99" y1="480.20" x2="276.39" y2="480.20" stroke="#111" stroke-width="1.6"/>
<rect x="280.64" y="547.50" width="12.00" height="30.50" fill="#a3002a"/>
<path d="M281.04 578.00 V547.90 H292.24 V578.00" fill="none" stroke="#98002a" stroke-width="0.8"/>
<line x1="286.64" y1="547.50" x2="286.64" y2="529.20" stroke="#333" stroke-width="1.2"/>
<line x1="283.44" y1="529.20" x2="289.84" y2="529.20" stroke="#111" stroke-width="1.6"/>
<line x1="266.64" y1="584.30" x2="292.74" y2="584.30" stroke="#222" stroke-width="1.1"/>
<text x="283.84" y="593.70" font-size="8.8" text-anchor="end" font-weight="normal" fill="#111" stroke="#111" stroke-width="0.12" transform="rotate(-45 283.84 593.70)">ctr SN</text>
<rect x="296.17" y="541.30" width="11.90" height="36.70" fill="#2f4c7d"/>
<path d="M296.57 578.00 V541.70 H307.67 V578.00" fill="none" stroke="#223d72" stroke-width="0.8"/>
<line x1="302.12" y1="541.30" x2="302.12" y2="536.50" stroke="#333" stroke-width="1.2"/>
<line x1="298.92" y1="536.50" x2="305.32" y2="536.50" stroke="#111" stroke-width="1.6"/>
<rect x="309.57" y="555.20" width="12.00" height="22.80" fill="#a3002a"/>
<path d="M309.97 578.00 V555.60 H321.17 V578.00" fill="none" stroke="#98002a" stroke-width="0.8"/>
<line x1="315.57" y1="555.20" x2="315.57" y2="550.40" stroke="#333" stroke-width="1.2"/>
<line x1="312.37" y1="550.40" x2="318.77" y2="550.40" stroke="#111" stroke-width="1.6"/>
<line x1="295.57" y1="584.30" x2="321.67" y2="584.30" stroke="#222" stroke-width="1.1"/>
<text x="312.77" y="593.70" font-size="8.8" text-anchor="end" font-weight="normal" fill="#111" stroke="#111" stroke-width="0.12" transform="rotate(-45 312.77 593.70)">p66 SN</text>
<rect x="325.10" y="502.30" width="11.90" height="75.70" fill="#2f4c7d"/>
<path d="M325.50 578.00 V502.70 H336.60 V578.00" fill="none" stroke="#223d72" stroke-width="0.8"/>
<line x1="331.05" y1="502.30" x2="331.05" y2="495.60" stroke="#333" stroke-width="1.2"/>
<line x1="327.85" y1="495.60" x2="334.25" y2="495.60" stroke="#111" stroke-width="1.6"/>
<rect x="338.50" y="555.80" width="12.00" height="22.20" fill="#a3002a"/>
<path d="M338.90 578.00 V556.20 H350.10 V578.00" fill="none" stroke="#98002a" stroke-width="0.8"/>
<line x1="344.50" y1="555.80" x2="344.50" y2="547.90" stroke="#333" stroke-width="1.2"/>
<line x1="341.30" y1="547.90" x2="347.70" y2="547.90" stroke="#111" stroke-width="1.6"/>
<line x1="324.50" y1="584.30" x2="350.60" y2="584.30" stroke="#222" stroke-width="1.1"/>
<text x="341.70" y="593.70" font-size="8.8" text-anchor="end" font-weight="normal" fill="#111" stroke="#111" stroke-width="0.12" transform="rotate(-45 341.70 593.70)">QQ SN</text>
<path d="M271.64 470.40 V468.70 H286.94 V470.40" fill="none" stroke="#2a2a2a" stroke-width="1.3"/>
<polygon points="273.54,462.75 274.13,463.64 275.16,463.92 274.49,464.76 274.54,465.83 273.54,465.45 272.54,465.83 272.59,464.76 271.92,463.92 272.95,463.64" fill="#1a1a1a"/>
<polygon points="277.34,462.75 277.93,463.64 278.96,463.92 278.29,464.76 278.34,465.83 277.34,465.45 276.34,465.83 276.39,464.76 275.72,463.92 276.75,463.64" fill="#1a1a1a"/>
<polygon points="281.14,462.75 281.73,463.64 282.76,463.92 282.09,464.76 282.14,465.83 281.14,465.45 280.14,465.83 280.19,464.76 279.52,463.92 280.55,463.64" fill="#1a1a1a"/>
<polygon points="284.94,462.75 285.53,463.64 286.56,463.92 285.89,464.76 285.94,465.83 284.94,465.45 283.94,465.83 283.99,464.76 283.32,463.92 284.35,463.64" fill="#1a1a1a"/>
<path d="M329.50 470.40 V468.70 H344.80 V470.40" fill="none" stroke="#2a2a2a" stroke-width="1.3"/>
<polygon points="331.40,462.75 331.99,463.64 333.02,463.92 332.35,464.76 332.40,465.83 331.40,465.45 330.40,465.83 330.45,464.76 329.78,463.92 330.81,463.64" fill="#1a1a1a"/>
<polygon points="335.20,462.75 335.79,463.64 336.82,463.92 336.15,464.76 336.20,465.83 335.20,465.45 334.20,465.83 334.25,464.76 333.58,463.92 334.61,463.64" fill="#1a1a1a"/>
<polygon points="339.00,462.75 339.59,463.64 340.62,463.92 339.95,464.76 340.00,465.83 339.00,465.45 338.00,465.83 338.05,464.76 337.38,463.92 338.41,463.64" fill="#1a1a1a"/>
<polygon points="342.80,462.75 343.39,463.64 344.42,463.92 343.75,464.76 343.80,465.83 342.80,465.45 341.80,465.83 341.85,464.76 341.18,463.92 342.21,463.64" fill="#1a1a1a"/>
<text x="305.30" y="446.30" font-size="10" text-anchor="middle" font-weight="normal" fill="#111" stroke="#111" stroke-width="0.12">CXCL11</text>
<rect x="382.96" y="539.40" width="11.90" height="38.60" fill="#2f4c7d"/>
<path d="M383.36 578.00 V539.80 H394.46 V578.00" fill="none" stroke="#223d72" stroke-width="0.8"/>
<line x1="388.91" y1="539.40" x2="388.91" y2="528.80" stroke="#333" stroke-width="1.2"/>
<line x1="385.71" y1="528.80" x2="392.11" y2="528.80" stroke="#111" stroke-width="1.6"/>
<rect x="396.36" y="566.50" width="12.00" height="11.50" fill="#a3002a"/>
<path d="M396.76 578.00 V566.90 H407.96 V578.00" fill="none" stroke="#98002a" stroke-width="0.8"/>
<line x1="402.36" y1="566.50" x2="402.36" y2="563.70" stroke="#333" stroke-width="1.2"/>
<line x1="399.16" y1="563.70" x2="405.56" y2="563.70" stroke="#111" stroke-width="1.6"/>
<line x1="382.36" y1="584.30" x2="408.46" y2="584.30" stroke="#222" stroke-width="1.1"/>
<text x="399.56" y="593.70" font-size="8.8" text-anchor="end" font-weight="normal" fill="#111" stroke="#111" stroke-width="0.12" transform="rotate(-45 399.56 593.70)">ctr SN</text>
<rect x="411.89" y="563.10" width="11.90" height="14.90" fill="#2f4c7d"/>
<path d="M412.29 578.00 V563.50 H423.39 V578.00" fill="none" stroke="#223d72" stroke-width="0.8"/>
<line x1="417.84" y1="563.10" x2="417.84" y2="551.20" stroke="#333" stroke-width="1.2"/>
<line x1="414.64" y1="551.20" x2="421.04" y2="551.20" stroke="#111" stroke-width="1.6"/>
<rect x="425.29" y="566.00" width="12.00" height="12.00" fill="#a3002a"/>
<path d="M425.69 578.00 V566.40 H436.89 V578.00" fill="none" stroke="#98002a" stroke-width="0.8"/>
<line x1="431.29" y1="566.00" x2="431.29" y2="559.20" stroke="#333" stroke-width="1.2"/>
<line x1="428.09" y1="559.20" x2="434.49" y2="559.20" stroke="#111" stroke-width="1.6"/>
<line x1="411.29" y1="584.30" x2="437.39" y2="584.30" stroke="#222" stroke-width="1.1"/>
<text x="428.49" y="593.70" font-size="8.8" text-anchor="end" font-weight="normal" fill="#111" stroke="#111" stroke-width="0.12" transform="rotate(-45 428.49 593.70)">p66 SN</text>
<rect x="440.82" y="538.50" width="11.90" height="39.50" fill="#2f4c7d"/>
<path d="M441.22 578.00 V538.90 H452.32 V578.00" fill="none" stroke="#223d72" stroke-width="0.8"/>
<line x1="446.77" y1="538.50" x2="446.77" y2="535.80" stroke="#333" stroke-width="1.2"/>
<line x1="443.57" y1="535.80" x2="449.97" y2="535.80" stroke="#111" stroke-width="1.6"/>
<rect x="454.22" y="566.00" width="12.00" height="12.00" fill="#a3002a"/>
<path d="M454.62 578.00 V566.40 H465.82 V578.00" fill="none" stroke="#98002a" stroke-width="0.8"/>
<line x1="460.22" y1="566.00" x2="460.22" y2="553.50" stroke="#333" stroke-width="1.2"/>
<line x1="457.02" y1="553.50" x2="463.42" y2="553.50" stroke="#111" stroke-width="1.6"/>
<line x1="440.22" y1="584.30" x2="466.32" y2="584.30" stroke="#222" stroke-width="1.1"/>
<text x="457.42" y="593.70" font-size="8.8" text-anchor="end" font-weight="normal" fill="#111" stroke="#111" stroke-width="0.12" transform="rotate(-45 457.42 593.70)">QQ SN</text>
<path d="M387.36 505.50 V503.80 H402.66 V505.50" fill="none" stroke="#2a2a2a" stroke-width="1.3"/>
<polygon points="394.96,497.85 395.55,498.74 396.58,499.02 395.91,499.86 395.96,500.93 394.96,500.55 393.96,500.93 394.01,499.86 393.34,499.02 394.37,498.74" fill="#1a1a1a"/>
<path d="M445.22 505.50 V503.80 H460.52 V505.50" fill="none" stroke="#2a2a2a" stroke-width="1.3"/>
<polygon points="452.82,497.85 453.41,498.74 454.44,499.02 453.77,499.86 453.82,500.93 452.82,500.55 451.82,500.93 451.87,499.86 451.20,499.02 452.23,498.74" fill="#1a1a1a"/>
<text x="420.30" y="446.30" font-size="10" text-anchor="middle" font-weight="normal" fill="#111" stroke="#111" stroke-width="0.12">CCL2</text>
<line x1="33.70" y1="452.30" x2="33.70" y2="578.20" stroke="#444" stroke-width="2.0"/>
<line x1="30.20" y1="577.60" x2="33.70" y2="577.60" stroke="#111" stroke-width="1.1"/>
<text x="27.30" y="580.30" font-size="9" text-anchor="end" font-weight="normal" fill="#222" stroke="#222" stroke-width="0.1">0</text>
<line x1="30.20" y1="536.87" x2="33.70" y2="536.87" stroke="#111" stroke-width="1.1"/>
<text x="27.30" y="539.57" font-size="9" text-anchor="end" font-weight="normal" fill="#222" stroke="#222" stroke-width="0.1">1</text>
<line x1="30.20" y1="496.13" x2="33.70" y2="496.13" stroke="#111" stroke-width="1.1"/>
<text x="27.30" y="498.83" font-size="9" text-anchor="end" font-weight="normal" fill="#222" stroke="#222" stroke-width="0.1">2</text>
<line x1="30.20" y1="455.40" x2="33.70" y2="455.40" stroke="#111" stroke-width="1.1"/>
<text x="27.30" y="458.10" font-size="9" text-anchor="end" font-weight="normal" fill="#222" stroke="#222" stroke-width="0.1">3</text>
<line x1="32.80" y1="578.00" x2="470.50" y2="578.00" stroke="#444" stroke-width="2.0"/>
<line x1="48.40" y1="578.00" x2="48.40" y2="581.00" stroke="#111" stroke-width="1.1"/>
<line x1="77.33" y1="578.00" x2="77.33" y2="581.00" stroke="#111" stroke-width="1.1"/>
<line x1="106.26" y1="578.00" x2="106.26" y2="581.00" stroke="#111" stroke-width="1.1"/>
<line x1="135.19" y1="578.00" x2="135.19" y2="581.00" stroke="#111" stroke-width="1.1"/>
<line x1="164.12" y1="578.00" x2="164.12" y2="581.00" stroke="#111" stroke-width="1.1"/>
<line x1="193.05" y1="578.00" x2="193.05" y2="581.00" stroke="#111" stroke-width="1.1"/>
<line x1="221.98" y1="578.00" x2="221.98" y2="581.00" stroke="#111" stroke-width="1.1"/>
<line x1="250.91" y1="578.00" x2="250.91" y2="581.00" stroke="#111" stroke-width="1.1"/>
<line x1="279.84" y1="578.00" x2="279.84" y2="581.00" stroke="#111" stroke-width="1.1"/>
<line x1="308.77" y1="578.00" x2="308.77" y2="581.00" stroke="#111" stroke-width="1.1"/>
<line x1="337.70" y1="578.00" x2="337.70" y2="581.00" stroke="#111" stroke-width="1.1"/>
<line x1="366.63" y1="578.00" x2="366.63" y2="581.00" stroke="#111" stroke-width="1.1"/>
<line x1="395.56" y1="578.00" x2="395.56" y2="581.00" stroke="#111" stroke-width="1.1"/>
<line x1="424.49" y1="578.00" x2="424.49" y2="581.00" stroke="#111" stroke-width="1.1"/>
<line x1="453.42" y1="578.00" x2="453.42" y2="581.00" stroke="#111" stroke-width="1.1"/>
<rect x="471.90" y="448.50" width="10.60" height="4.30" fill="#2f4c7d"/>
<rect x="471.90" y="460.60" width="10.60" height="4.40" fill="#a3002a"/>
<text x="485.60" y="453.90" font-size="8.6" text-anchor="start" font-weight="normal" fill="#111" stroke="#111" stroke-width="0.12" textLength="23.5" lengthAdjust="spacingAndGlyphs">ctr Ab</text>
<text x="485.60" y="465.90" font-size="8.6" text-anchor="start" font-weight="normal" fill="#111" stroke="#111" stroke-width="0.12" textLength="27.3" lengthAdjust="spacingAndGlyphs">IL-9 Ab</text>
<defs><filter id="bl2" x="-20%" y="-100%" width="140%" height="300%"><feGaussianBlur stdDeviation="0.75"/></filter><filter id="bl3" x="-20%" y="-200%" width="140%" height="500%"><feGaussianBlur stdDeviation="1.0"/></filter></defs>
<rect x="24.40" y="75.70" width="77.20" height="16.20" fill="#e1e1e1"/>
<rect x="51.8" y="83.0" width="20.50" height="4.2" rx="2.1" fill="#222" filter="url(#bl2)"/>
<rect x="76.6" y="83.0" width="21.80" height="4.2" rx="2.1" fill="#222" filter="url(#bl2)"/>
<rect x="24.40" y="144.90" width="77.20" height="16.00" fill="#e0e0e0"/>
<path d="M27.4 153.5 Q27.4 151.0 30.5 151.0 L44.5 151.6 Q47.6 151.8 47.6 154.0 Q47.6 156.2 44.5 156.2 L30.5 156.2 Q27.4 156.2 27.4 153.5 Z" fill="#222" filter="url(#bl2)"/>
<rect x="52.0" y="152.0" width="19.60" height="4.2" rx="2.1" fill="#1e1e1e" filter="url(#bl2)"/>
<rect x="77.0" y="152.0" width="20.60" height="4.2" rx="2.1" fill="#1e1e1e" filter="url(#bl2)"/>
<rect x="53" y="147.6" width="18.50" height="1.8" rx="0.9" fill="#bcbcbc" filter="url(#bl3)"/>
<rect x="78" y="147.6" width="18.50" height="1.8" rx="0.9" fill="#bcbcbc" filter="url(#bl3)"/>
<rect x="24.6" y="95.8" width="76.6" height="37.6" fill="none" stroke="#111" stroke-width="1.1"/>
<text x="38.30" y="107.40" font-size="8.6" text-anchor="middle" font-weight="normal" fill="#111">1.0</text>
<text x="38.30" y="118.90" font-size="8.6" text-anchor="middle" font-weight="normal" fill="#111">+/-</text>
<text x="38.30" y="130.40" font-size="8.6" text-anchor="middle" font-weight="normal" fill="#111">0.1</text>
<text x="61.30" y="107.40" font-size="8.6" text-anchor="middle" font-weight="normal" fill="#111">54.3</text>
<text x="61.30" y="118.90" font-size="8.6" text-anchor="middle" font-weight="normal" fill="#111">+/-</text>
<text x="61.30" y="130.40" font-size="8.6" text-anchor="middle" font-weight="normal" fill="#111">5.6</text>
<text x="85.80" y="107.40" font-size="8.6" text-anchor="middle" font-weight="normal" fill="#111">41.1</text>
<text x="85.80" y="118.90" font-size="8.6" text-anchor="middle" font-weight="normal" fill="#111">+/-</text>
<text x="85.80" y="130.40" font-size="8.6" text-anchor="middle" font-weight="normal" fill="#111">7.2</text>
<text x="7.60" y="81.10" font-size="9" text-anchor="start" font-weight="normal" fill="#222" stroke="#222" stroke-width="0.12" textLength="8.8" lengthAdjust="spacingAndGlyphs">75</text>
<line x1="18.10" y1="78.40" x2="21.30" y2="78.40" stroke="#222" stroke-width="1.1"/>
<text x="7.40" y="149.80" font-size="9" text-anchor="start" font-weight="normal" fill="#222" stroke="#222" stroke-width="0.12" textLength="9.0" lengthAdjust="spacingAndGlyphs">50</text>
<line x1="18.10" y1="146.40" x2="21.30" y2="146.40" stroke="#222" stroke-width="1.1"/>
<line x1="105.50" y1="85.20" x2="113.80" y2="85.20" stroke="#111" stroke-width="1.1"/>
<path d="M104 85.2 L107.5 83.0 L107.5 87.4 Z" fill="#111"/>
<text x="116.60" y="88.40" font-size="8.8" text-anchor="start" font-weight="normal" fill="#111" stroke="#111" stroke-width="0.12" textLength="27.0" lengthAdjust="spacingAndGlyphs">p66Shc</text>
<line x1="105.50" y1="154.00" x2="113.80" y2="154.00" stroke="#111" stroke-width="1.1"/>
<path d="M104 154 L107.5 151.8 L107.5 156.2 Z" fill="#111"/>
<text x="116.60" y="157.20" font-size="8.8" text-anchor="start" font-weight="normal" fill="#111" stroke="#111" stroke-width="0.12" textLength="17.4" lengthAdjust="spacingAndGlyphs">actin</text>
<text x="38.00" y="67.90" font-size="8.5" text-anchor="start" font-weight="normal" fill="#111" stroke="#111" stroke-width="0.12" textLength="28.7" lengthAdjust="spacingAndGlyphs" transform="rotate(-45 38.00 67.90)">MEC ctr</text>
<text x="62.00" y="68.30" font-size="8.5" text-anchor="start" font-weight="normal" fill="#111" stroke="#111" stroke-width="0.12" textLength="34.3" lengthAdjust="spacingAndGlyphs" transform="rotate(-45 62.00 68.30)">MEC p66</text>
<text x="89.10" y="68.30" font-size="8.5" text-anchor="start" font-weight="normal" fill="#111" stroke="#111" stroke-width="0.12" textLength="31.4" lengthAdjust="spacingAndGlyphs" transform="rotate(-45 89.10 68.30)">MEC QQ</text>
</svg></body></html>
